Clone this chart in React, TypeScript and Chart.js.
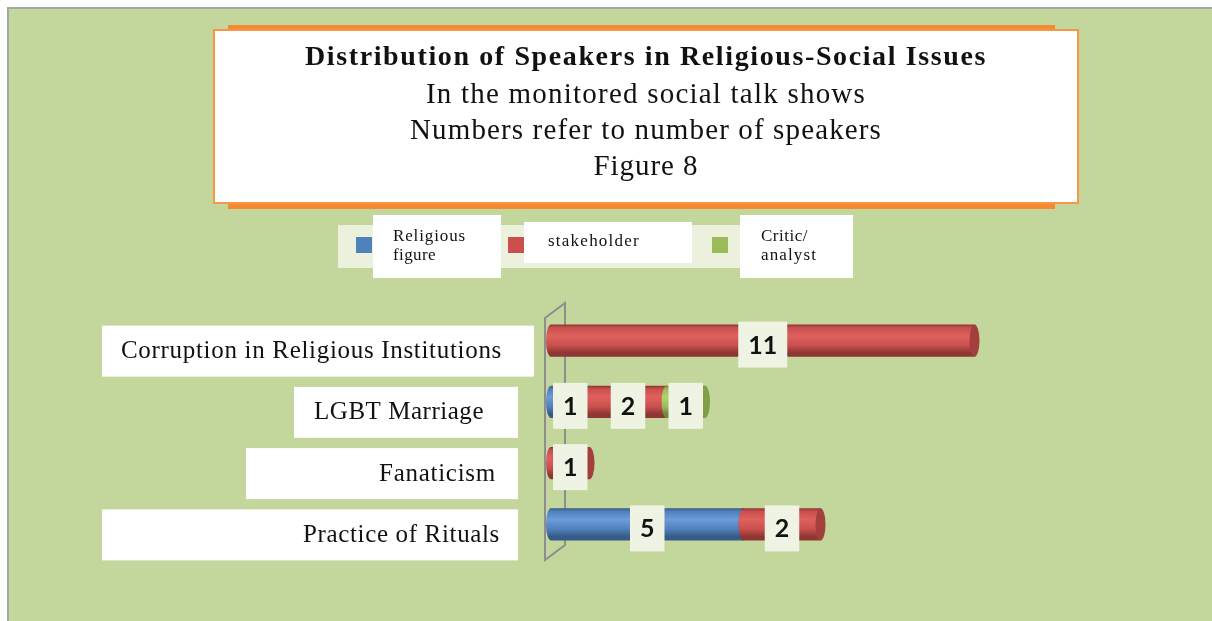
import React, { useEffect, useRef } from "react";
import { Chart, registerables } from "chart.js";

Chart.register(...registerables);

// ---- data ----
const categories = [
  "Corruption in Religious Institutions",
  "LGBT Marriage",
  "Fanaticism",
  "Practice of Rituals",
];
const religiousFigure = [0, 1, 0, 5];
const stakeholder = [11, 2, 1, 2];
const criticAnalyst = [0, 1, 0, 0];
const seriesNames = ["Religious figure", "stakeholder", "Critic/analyst"];
const legendLines = [["Religious", "figure"], ["stakeholder"], ["Critic/", "analyst"]];
const titleLines = [
  "Distribution of Speakers in Religious-Social Issues",
  "In the monitored social talk shows",
  "Numbers refer to number of speakers",
  "Figure 8",
];
const xMax = 15;

// ---- layout / style ----
const W = 1212;
const H = 621;
const SERIF = '"Liberation Serif", "DejaVu Serif", serif';
const PAL = [
  { base: "#4f81bd", light: "#6d9cd8", dark: "#375b88", cap: "#3f6798" },
  { base: "#c9504d", light: "#e0615e", dark: "#8e3634", cap: "#a3403d" },
  { base: "#9bbb59", light: "#b3d270", dark: "#6f883d", cap: "#819f47" },
];
// category label boxes: [boxLeft, boxRight, textRight, textWidth]
const CAT_BOX = [
  [102, 534, 502, 381],
  [294, 518, 484, 170],
  [246, 518, 496, 117],
  [102, 518, 500, 197],
];
// title lines: [centerY, width, bold, size]
const TITLE_LAYOUT: [number, number, boolean, number][] = [
  [58, 682, true, 28],
  [95, 440, false, 29],
  [131, 472, false, 29],
  [167, 105, false, 29],
];
// legend items: square x, box [x0,y0,x1,y1], text x, line ys, line widths
const LEGEND_LAYOUT = [
  { sq: 356, box: [373, 215, 501, 278], tx: 393, ys: [237, 256], ws: [73, 43] },
  { sq: 508, box: [524, 222, 692, 263], tx: 548, ys: [242], ws: [92] },
  { sq: 712, box: [740, 215, 853, 278], tx: 761, ys: [237, 256], ws: [47, 56] },
];

function fitText(
  ctx: CanvasRenderingContext2D,
  text: string,
  x: number,
  y: number,
  width: number,
  align: "left" | "center" | "right"
) {
  (ctx as any).letterSpacing = "0px";
  const w0 = ctx.measureText(text).width;
  const n = text.length;
  const ls = (width - w0) / n;
  (ctx as any).letterSpacing = `${ls}px`;
  let start = x;
  if (align === "center") start = x - width / 2;
  if (align === "right") start = x - width;
  ctx.textAlign = "left";
  ctx.fillText(text, start, y);
  (ctx as any).letterSpacing = "0px";
}

const scenePlugin = {
  id: "scene",
  beforeDraw(chart: any) {
    const ctx: CanvasRenderingContext2D = chart.ctx;
    const xs = chart.scales.x;
    const ys = chart.scales.y;
    ctx.save();
    // page + panel
    ctx.fillStyle = "#ffffff";
    ctx.fillRect(0, 0, W, H);
    ctx.fillStyle = "#c3d69b";
    ctx.fillRect(8, 8, W - 8, H - 8);
    ctx.fillStyle = "#a6a6a6";
    ctx.fillRect(7, 7, W - 7, 2);
    ctx.fillRect(7, 7, 2, H - 7);

    // title box
    ctx.fillStyle = "#f58a30";
    ctx.fillRect(228, 25, 827, 184);
    ctx.fillStyle = "#ffffff";
    ctx.fillRect(214, 30, 864, 173);
    ctx.strokeStyle = "#f79646";
    ctx.lineWidth = 2;
    ctx.strokeRect(214, 30, 864, 173);
    ctx.fillStyle = "#111111";
    ctx.textBaseline = "middle";
    titleLines.forEach((t, i) => {
      const [cy, w, bold, size] = TITLE_LAYOUT[i];
      ctx.font = `${bold ? "bold " : ""}${size}px ${SERIF}`;
      fitText(ctx, t, 646, cy, w, "center");
    });

    // legend
    ctx.fillStyle = "#ebf1dd";
    ctx.fillRect(338, 225, 502, 43);
    LEGEND_LAYOUT.forEach((L, i) => {
      ctx.fillStyle = PAL[i].base;
      ctx.fillRect(L.sq, 237, 16, 16);
      ctx.fillStyle = "#ffffff";
      ctx.fillRect(L.box[0], L.box[1], L.box[2] - L.box[0], L.box[3] - L.box[1]);
      ctx.fillStyle = "#111111";
      ctx.font = `17px ${SERIF}`;
      legendLines[i].forEach((line, j) => {
        fitText(ctx, line, L.tx, L.ys[j], L.ws[j], "left");
      });
    });

    // category labels
    categories.forEach((c, i) => {
      const cy = ys.getPixelForValue(i);
      const [b0, b1, tr, tw] = CAT_BOX[i];
      ctx.fillStyle = "#ffffff";
      ctx.fillRect(b0, cy - 15, b1 - b0, 51);
      ctx.fillStyle = "#111111";
      ctx.font = `25px ${SERIF}`;
      fitText(ctx, c, tr, cy + 11, tw, "right");
    });

    // 3D wall (axis)
    const x0 = xs.getPixelForValue(0);
    ctx.strokeStyle = "#8e8e8e";
    ctx.lineWidth = 2;
    ctx.beginPath();
    ctx.moveTo(x0 + 14, ys.top - 7);
    ctx.lineTo(x0 - 6, ys.top + 8);
    ctx.lineTo(x0 - 6, ys.bottom + 5);
    ctx.lineTo(x0 + 14, ys.bottom - 10);
    ctx.closePath();
    ctx.stroke();
    ctx.restore();
  },
  afterDatasetsDraw(chart: any) {
    const ctx: CanvasRenderingContext2D = chart.ctx;
    ctx.save();
    const labels: { x: number; y: number; t: string }[] = [];
    chart.data.datasets.forEach((ds: any, d: number) => {
      const meta = chart.getDatasetMeta(d);
      const pal = PAL[d];
      meta.data.forEach((el: any, i: number) => {
        const v = ds.data[i];
        if (!v) return;
        const { x, base, y, height } = el.getProps(["x", "base", "y", "height"], true);
        const x0 = Math.min(base, x);
        const x1 = Math.max(base, x);
        const top = y - height / 2;
        const bot = y + height / 2;
        const ry = height / 2;
        const rx = 5;
        const g = ctx.createLinearGradient(0, top, 0, bot);
        g.addColorStop(0, pal.dark);
        g.addColorStop(0.1, pal.base);
        g.addColorStop(0.35, pal.light);
        g.addColorStop(0.65, pal.base);
        g.addColorStop(0.88, pal.dark);
        g.addColorStop(1, pal.dark);
        ctx.fillStyle = g;
        ctx.beginPath();
        ctx.moveTo(x0, top);
        ctx.lineTo(x1, top);
        ctx.lineTo(x1, bot);
        ctx.lineTo(x0, bot);
        ctx.ellipse(x0, y, rx, ry, 0, Math.PI / 2, Math.PI * 1.5);
        ctx.closePath();
        ctx.fill();
        ctx.fillStyle = pal.cap;
        ctx.beginPath();
        ctx.ellipse(x1, y, rx, ry, 0, 0, Math.PI * 2);
        ctx.fill();
        labels.push({ x: (x0 + x1) / 2, y: y + 4, t: String(v) });
      });
    });
    ctx.font = `bold 25px Lato, "Open Sans", sans-serif`;
    ctx.textAlign = "center";
    ctx.textBaseline = "middle";
    labels.forEach((l) => {
      const w = Math.max(32, ctx.measureText(l.t).width + 20);
      ctx.fillStyle = "#eef3e3";
      ctx.fillRect(l.x - w / 2, l.y - 23, w, 46);
      ctx.fillStyle = "#111111";
      ctx.fillText(l.t, l.x, l.y + 1);
    });
    ctx.restore();
  },
};

export default function App() {
  const ref = useRef<HTMLCanvasElement>(null);
  useEffect(() => {
    const unit = 38.5;
    const chart = new Chart(ref.current!, {
      type: "bar",
      data: {
        labels: categories,
        datasets: [
          { label: seriesNames[0], data: religiousFigure, backgroundColor: "rgba(0,0,0,0)" },
          { label: seriesNames[1], data: stakeholder, backgroundColor: "rgba(0,0,0,0)" },
          { label: seriesNames[2], data: criticAnalyst, backgroundColor: "rgba(0,0,0,0)" },
        ],
      },
      options: {
        indexAxis: "y",
        responsive: false,
        animation: false,
        devicePixelRatio: 1,
        layout: {
          padding: { left: 551, right: W - 551 - xMax * unit, top: 310, bottom: H - 555 },
        },
        datasets: { bar: { categoryPercentage: 1, barPercentage: 0.523 } },
        scales: {
          x: { stacked: true, min: 0, max: xMax, display: false },
          y: { stacked: true, display: false },
        },
        plugins: {
          legend: { display: false },
          title: { display: false },
          tooltip: { enabled: false },
        },
      } as any,
      plugins: [scenePlugin],
    });
    return () => chart.destroy();
  }, []);
  return (
    <canvas
      ref={ref}
      width={W}
      height={H}
      style={{ position: "fixed", left: 0, top: 0, width: W, height: H, display: "block" }}
    />
  );
}
